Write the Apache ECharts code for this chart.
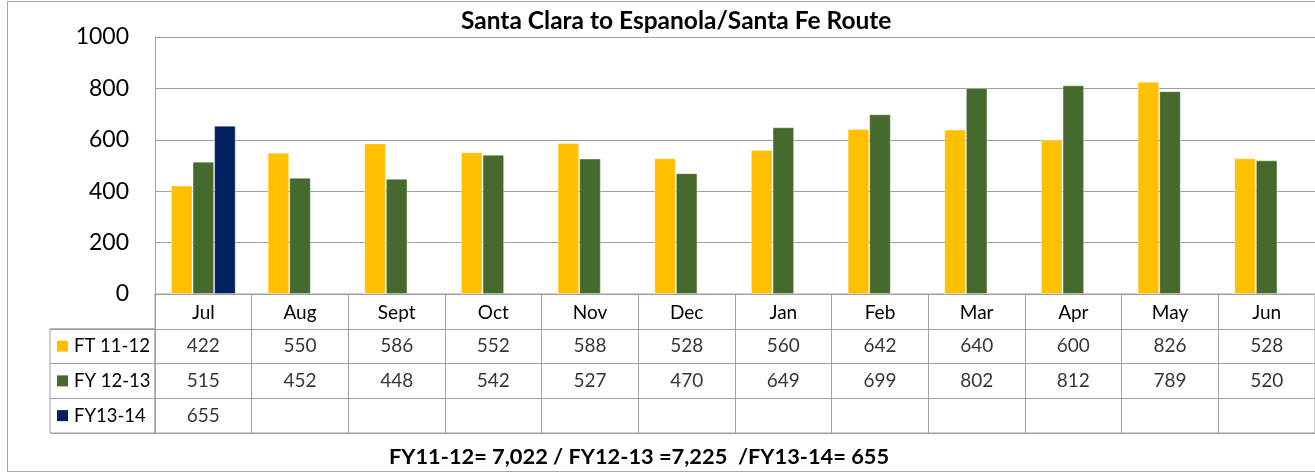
<!DOCTYPE html>
<html>
<head>
<meta charset="utf-8">
<title>Santa Clara to Espanola/Santa Fe Route</title>
<script src="https://cdn.jsdelivr.net/npm/echarts@6/dist/echarts.min.js"></script>
<style>
  html, body { margin: 0; padding: 0; background: #fff; }
  #wrap { position: relative; width: 1315px; height: 475px; overflow: hidden; }
  #chart { position: absolute; left: 0; top: 0; width: 1315px; height: 475px; }
  #frame { position: absolute; left: 7px; top: 1px; width: 1330px; height: 469px;
           border: 1px solid #a6a6a6; pointer-events: none; }
</style>
</head>
<body>
<div id="wrap">
  <div id="chart"></div>
  <div id="frame"></div>
</div>
<script>
// Monthly ridership, fiscal year order (July to June)
const months = ['Jul', 'Aug', 'Sept', 'Oct', 'Nov', 'Dec', 'Jan', 'Feb', 'Mar', 'Apr', 'May', 'Jun'];
const seriesNames = ['FT 11-12', 'FY 12-13', 'FY13-14'];
const fy1112 = [422, 550, 586, 552, 588, 528, 560, 642, 640, 600, 826, 528];
const fy1213 = [515, 452, 448, 542, 527, 470, 649, 699, 802, 812, 789, 520];
const fy1314 = [655, null, null, null, null, null, null, null, null, null, null, null];
const yMin = 0, yMax = 1000, yStep = 200;

const seriesValues = [fy1112, fy1213, fy1314];
const colors = ['#FFC000', '#466A2D', '#002060'];
const FONT = 'Lato, "Liberation Sans", sans-serif';
const GRID_LINE = '#a0a0a0';

const sum = arr => arr.reduce((a, v) => a + (v || 0), 0);
const fmt = n => n.toLocaleString('en-US');
const totals = seriesValues.map(sum);
const totalsText = `FY11-12= ${fmt(totals[0])} / FY12-13 =${fmt(totals[1])}  /FY13-14= ${fmt(totals[2])}`;

// Geometry of plot + data table
const plotLeft = 155, plotTop = 37, plotWidth = 1163, plotHeight = 257;
const tableTop = plotTop + plotHeight, rowH = 34.75;
const legendLeft = 50;

const chart = echarts.init(document.getElementById('chart'), null, { renderer: 'canvas' });

// Bars
const barSeries = seriesValues.map((vals, k) => ({
  name: seriesNames[k],
  type: 'bar',
  xAxisIndex: 0,
  yAxisIndex: 0,
  data: vals,
  barGap: '0%',
  barCategoryGap: '33%',
  itemStyle: { color: colors[k], borderColor: 'rgba(255,255,255,0.35)', borderWidth: 1 }
}));

// Table cell texts (row 0 is the month header row, rows 1..3 hold values)
const cellSeries = seriesValues.map((vals, k) => ({
  type: 'scatter',
  xAxisIndex: 1,
  yAxisIndex: 1,
  symbolSize: 0,
  silent: true,
  data: vals.map((v, i) => v == null ? null : [i, k + 1, v]).filter(d => d),
  label: {
    show: true,
    position: 'inside',
    formatter: p => String(p.value[2]),
    color: '#000',
    fontFamily: FONT,
    fontSize: 19
  }
}));

const rich = { t: { fontFamily: FONT, fontSize: 18.5, color: '#000', padding: [0, 0, 0, 6] } };
seriesNames.forEach((n, k) => {
  rich['s' + k] = { width: 11, height: 11, backgroundColor: colors[k] };
});

const option = {
  animation: false,
  textStyle: { fontFamily: FONT },
  title: [
    {
      text: 'Santa Clara to Espanola/Santa Fe Route',
      left: 456, top: 4,
      textStyle: { fontFamily: FONT, fontWeight: 'bold', fontSize: 24.5, color: '#000' }
    },
    {
      text: totalsText,
      left: 384, top: 441,
      textStyle: { fontFamily: FONT, fontWeight: 'bold', fontSize: 21.8, color: '#000' }
    }
  ],
  grid: [
    { left: plotLeft, top: plotTop, width: plotWidth, height: plotHeight },
    { left: plotLeft, top: tableTop, width: plotWidth, height: rowH * 4,
      show: true, borderColor: GRID_LINE, borderWidth: 1 },
    { left: legendLeft, top: tableTop + rowH, width: plotLeft - legendLeft, height: rowH * 3,
      show: true, borderColor: GRID_LINE, borderWidth: 1 }
  ],
  xAxis: [
    {
      gridIndex: 0, type: 'category', data: months,
      axisLine: { show: true, lineStyle: { color: GRID_LINE } },
      axisTick: { show: false },
      axisLabel: { interval: 0, margin: 9, color: '#000', fontFamily: FONT, fontSize: 19 }
    },
    {
      gridIndex: 1, type: 'category', data: months,
      axisLine: { show: false }, axisTick: { show: false }, axisLabel: { show: false },
      splitLine: { show: true, interval: 0, lineStyle: { color: GRID_LINE } }
    },
    { gridIndex: 2, type: 'value', show: false }
  ],
  yAxis: [
    {
      gridIndex: 0, type: 'value', min: yMin, max: yMax, interval: yStep,
      axisLine: { show: true, lineStyle: { color: GRID_LINE } },
      axisTick: { show: false },
      splitLine: { show: true, lineStyle: { color: GRID_LINE } },
      axisLabel: { margin: 26, color: '#000', fontFamily: FONT, fontSize: 23,
                   formatter: v => String(v) }
    },
    {
      gridIndex: 1, type: 'category', inverse: true,
      data: [''].concat(seriesNames),
      axisLine: { show: false }, axisTick: { show: false }, axisLabel: { show: false },
      splitLine: { show: true, interval: 0, lineStyle: { color: GRID_LINE } }
    },
    {
      gridIndex: 2, type: 'category', inverse: true,
      data: seriesNames,
      axisLine: { show: false }, axisTick: { show: false },
      splitLine: { show: true, interval: 0, lineStyle: { color: GRID_LINE } },
      axisLabel: {
        inside: true, interval: 0, margin: 7,
        formatter: (v, i) => `{s${i}|}{t|${v}}`,
        rich: rich
      }
    }
  ],
  series: barSeries.concat(cellSeries)
};

chart.setOption(option);
</script>
</body>
</html>
